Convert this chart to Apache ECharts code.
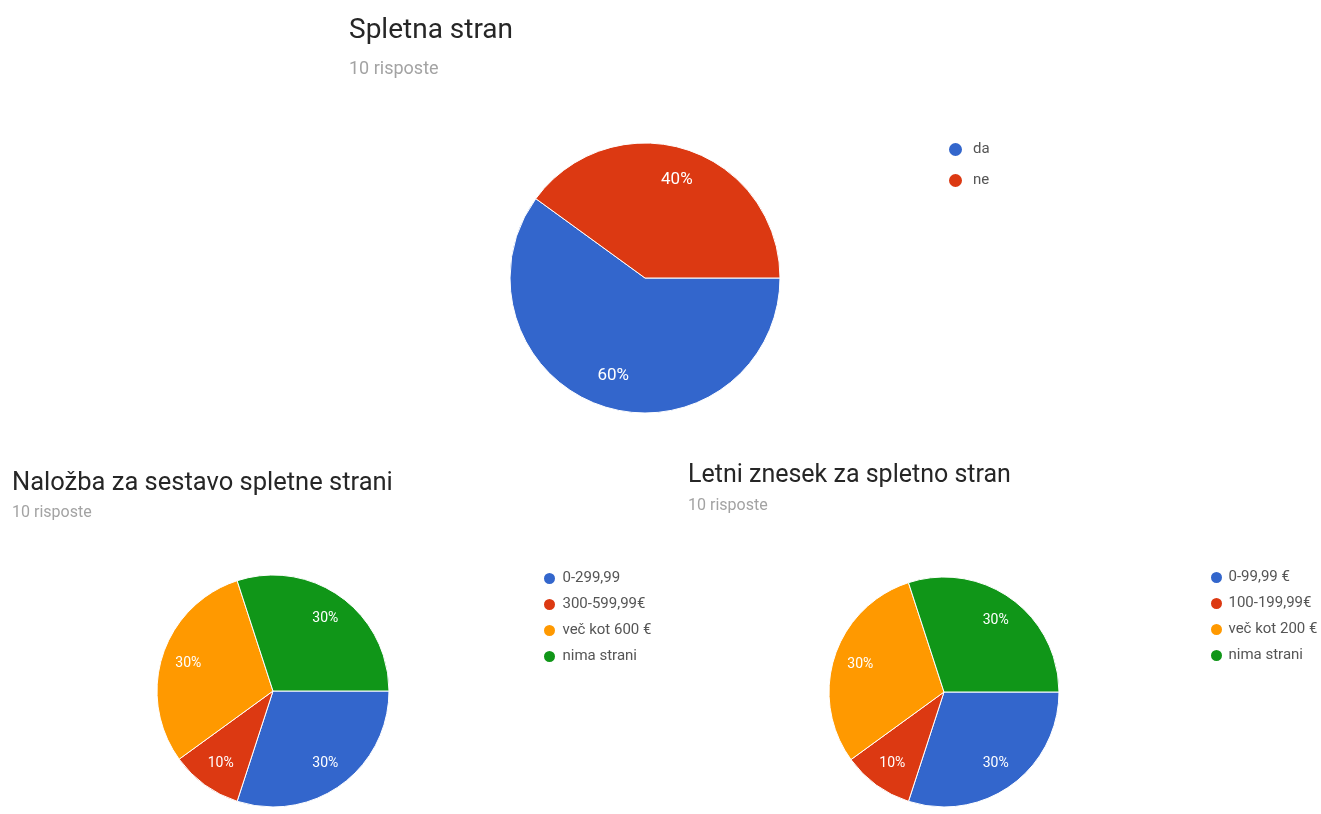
<!DOCTYPE html>
<html>
<head>
<meta charset="utf-8">
<title>Spletna stran</title>
<script src="https://cdn.jsdelivr.net/npm/echarts@6/dist/echarts.min.js"></script>
<style>
  html, body { margin: 0; padding: 0; background: #fff; }
  #chart { width: 1321px; height: 814px; }
</style>
</head>
<body>
<div id="chart"></div>
<script>
// Survey answers (10 responses per question)
const siteCategories = ['da', 'ne'];
const siteValues = [6, 4];

const buildCategories = ['0-299,99', '300-599,99€', 'več kot 600 €', 'nima strani'];
const buildValues = [3, 1, 3, 3];

const yearlyCategories = ['0-99,99 €', '100-199,99€', 'več kot 200 €', 'nima strani'];
const yearlyValues = [3, 1, 3, 3];

const titles = ['Spletna stran', 'Naložba za sestavo spletne strani', 'Letni znesek za spletno stran'];
const responsesText = '10 risposte';

const palette = ['#3366cc', '#dc3912', '#ff9900', '#109618'];
const FONT = 'Roboto, "Noto Sans", sans-serif';

function toData(names, values) {
  return names.map((n, i) => ({ name: n, value: values[i], itemStyle: { color: palette[i] } }));
}

// Solid pie with thin white separators
function pieSeries(names, values, center, r) {
  return {
    type: 'pie',
    center: center,
    radius: [0, r],
    startAngle: 0,
    clockwise: true,
    percentPrecision: 0,
    label: { show: false },
    labelLine: { show: false },
    itemStyle: { borderColor: '#ffffff', borderWidth: 1 },
    emphasis: { scale: false },
    data: toData(names, values)
  };
}

// Transparent ring carrying the percentage labels further out than mid-radius
function labelSeries(names, values, center, r, fontSize) {
  return {
    type: 'pie',
    center: center,
    radius: [Math.round(r * 0.48), r],
    startAngle: 0,
    clockwise: true,
    silent: true,
    legendHoverLink: false,
    percentPrecision: 0,
    itemStyle: { color: 'transparent', borderWidth: 0 },
    label: {
      show: true,
      position: 'inside',
      formatter: '{d}%',
      color: '#ffffff',
      fontFamily: FONT,
      fontSize: fontSize
    },
    labelLine: { show: false },
    emphasis: { disabled: true },
    data: names.map((n, i) => ({ name: n, value: values[i] }))
  };
}

function heading(text, left, top, size) {
  return {
    text: text, left: left, top: top, padding: 0,
    textStyle: { fontFamily: FONT, fontSize: size, fontWeight: 'normal', color: '#262626' }
  };
}

function subheading(left, top, size) {
  return {
    text: responsesText, left: left, top: top, padding: 0,
    textStyle: { fontFamily: FONT, fontSize: size, fontWeight: 'normal', color: '#a3a3a3' }
  };
}

function legendBlock(names, left, top, gap, w, h, fontSize) {
  return {
    orient: 'vertical',
    left: left,
    top: top,
    padding: 0,
    icon: 'circle',
    itemWidth: w,
    itemHeight: h,
    itemGap: gap,
    selectedMode: false,
    textStyle: { fontFamily: FONT, fontSize: fontSize, color: '#555' },
    data: names
  };
}

const chart = echarts.init(document.getElementById('chart'));
chart.setOption({
  backgroundColor: '#ffffff',
  animation: false,
  title: [
    heading(titles[0], 349, 17, 28),
    subheading(349, 60, 18),
    heading(titles[1], 12, 471, 25.5),
    subheading(12, 505, 16),
    heading(titles[2], 688, 463, 25),
    subheading(688, 498, 16)
  ],
  legend: [
    legendBlock(siteCategories, 947, 141, 14, 25, 15, 15),
    legendBlock(buildCategories, 542, 571, 11, 16, 13, 15),
    legendBlock(yearlyCategories, 1209, 570, 11, 14, 13, 15)
  ],
  series: [
    pieSeries(siteCategories, siteValues, [645, 278], 135),
    pieSeries(buildCategories, buildValues, [273, 691], 116),
    pieSeries(yearlyCategories, yearlyValues, [944, 692], 115),
    labelSeries(siteCategories, siteValues, [645, 278], 135, 17),
    labelSeries(buildCategories, buildValues, [273, 691], 116, 14),
    labelSeries(yearlyCategories, yearlyValues, [944, 692], 115, 14)
  ]
});
</script>
</body>
</html>
